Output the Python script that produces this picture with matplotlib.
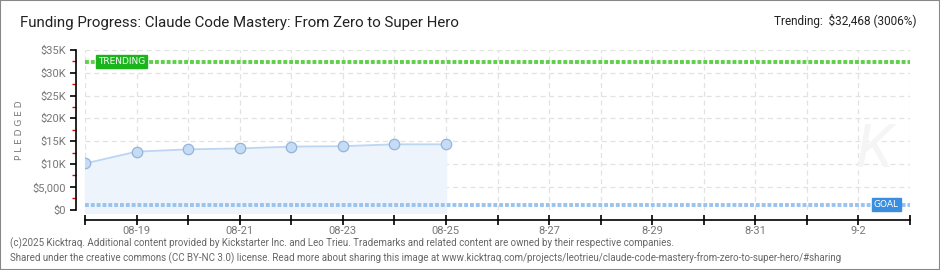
import matplotlib
matplotlib.use('Agg')
import matplotlib.pyplot as plt
from matplotlib.patches import Rectangle
from matplotlib.ticker import FixedLocator

plt.rcParams['font.family'] = ['Roboto', 'DejaVu Sans']

# Data (day 0 = 08-18)
days = [0, 1, 2, 3, 4, 5, 6, 7]
pledged = [10100, 12700, 13200, 13400, 13800, 13900, 14300, 14300]
trending = 32468
goal = 1080
tick_days = list(range(0, 17))
tick_labels = ['', '08-19', '', '08-21', '', '08-23', '', '08-25', '',
               '8-27', '', '8-29', '', '8-31', '', '9-2', '']
y_ticks = [0, 5000, 10000, 15000, 20000, 25000, 30000, 35000]
y_labels = ['$0', '$5,000', '$10K', '$15K', '$20K', '$25K', '$30K', '$35K']
y_minor = [2500, 7500, 12500, 17500, 22500, 27500, 32500]

W, H = 940, 270
fig = plt.figure(figsize=(W / 100, H / 100), dpi=100)
fig.patch.set_facecolor('white')

# outer border
fig.patches.append(Rectangle((0, 0), 1, 1, transform=fig.transFigure, fill=False,
                             edgecolor='#888888', linewidth=1.5))

ax = fig.add_axes([85 / W, (H - 209.5) / H, (910 - 85) / W, (209.5 - 50) / H])
ax.set_xlim(0, 16)
ax.set_ylim(0, 35000)

# grid
for d in tick_days:
    ax.axvline(d, color='#e2e2e2', lw=0.9, ls=(0, (4, 3)), zorder=0)
for yv in y_ticks:
    ax.axhline(yv, color='#e2e2e2', lw=0.9, ls=(0, (4, 3)), zorder=0)

# faint watermark
ax.text(15.3, 13000, 'K', fontsize=44, style='italic', color='#f5f5f5',
        ha='center', va='center', zorder=0)

# pledged area + line + points
ax.fill_between(days, pledged, -700, color='#edf4fc', zorder=1, clip_on=False)
ax.plot(days, pledged, color='#bcd6f2', lw=1.3, zorder=2)
ax.plot(days, pledged, 'o', ms=7.5, markerfacecolor='#c4dcf6',
        markeredgecolor='#96b4d6', markeredgewidth=0.9, zorder=3)

# trending and goal lines
ax.axhline(trending, color='#5fd04a', lw=2.8, ls=(0, (1.0, 0.5)), zorder=2)
ax.axhline(goal, color='#9ac3ee', lw=2.8, ls=(0, (1.0, 0.5)), zorder=2)

ax.text(0.25, trending, 'TRENDING', fontsize=6.5, color='white', ha='left', va='center',
        family='DejaVu Sans', zorder=5,
        bbox=dict(boxstyle='square,pad=0.25', facecolor='#1cb41c', edgecolor='#1cb41c'))
ax.text(15.3, goal, 'GOAL', fontsize=6.5, color='white', ha='left', va='center',
        family='DejaVu Sans', zorder=5,
        bbox=dict(boxstyle='square,pad=0.25', facecolor='#3a8ee0', edgecolor='#3a8ee0'))

# axes styling
for s in ['top', 'right']:
    ax.spines[s].set_visible(False)
ax.spines['left'].set_position(('outward', 6.5))
ax.spines['bottom'].set_position(('outward', 7.5))
ax.spines['left'].set_linewidth(1.2)
ax.spines['bottom'].set_linewidth(1.2)
ax.set_xticks(tick_days)
ax.set_xticklabels(tick_labels)
ax.set_yticks(y_ticks)
ax.set_yticklabels(y_labels)
ax.yaxis.set_minor_locator(FixedLocator(y_minor))
ax.tick_params(axis='both', which='major', length=4, width=1.2, color='black',
               labelsize=8, labelcolor='#777777', pad=3)
ax.tick_params(axis='y', which='minor', length=3, color='#dd0000', width=1)
ax.tick_params(axis='x', direction='inout', length=7, pad=1)
ax.set_ylabel('P L E D G E D', fontsize=6.5, color='#777777', labelpad=6, family='DejaVu Sans')

# titles and footer
fig.text(20 / W, 1 - 23 / H, 'Funding Progress: Claude Code Mastery: From Zero to Super Hero',
         fontsize=10.8, color='#222222', ha='left', va='center')
fig.text(917 / W, 1 - 21 / H, 'Trending:  $32,468 (3006%)', fontsize=8.5,
         color='#222222', ha='right', va='center')
fig.text(10 / W, 1 - 243 / H,
         '(c)2025 Kicktraq. Additional content provided by Kickstarter Inc. and Leo Trieu. '
         'Trademarks and related content are owned by their respective companies.',
         fontsize=7, color='#666666', ha='left', va='center')
fig.text(10 / W, 1 - 258 / H,
         'Shared under the creative commons (CC BY-NC 3.0) license. Read more about sharing this '
         'image at www.kicktraq.com/projects/leotrieu/claude-code-mastery-from-zero-to-super-hero/#sharing',
         fontsize=7, color='#666666', ha='left', va='center')

fig.savefig('out.png', dpi=100)
